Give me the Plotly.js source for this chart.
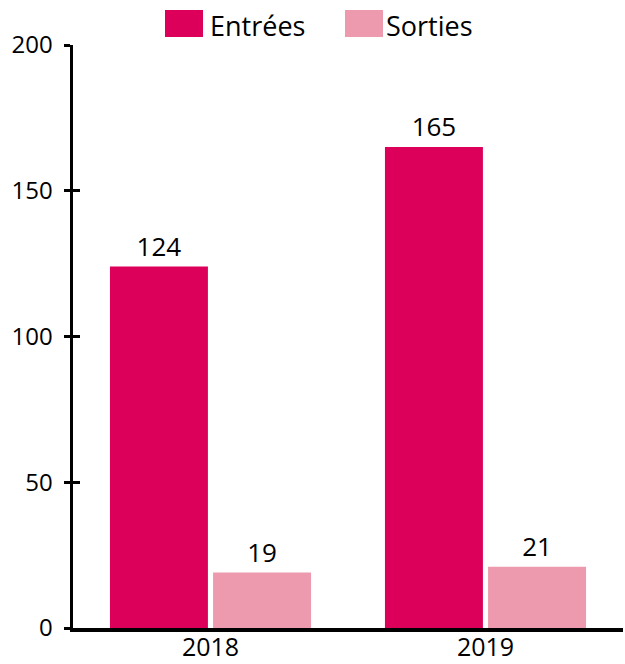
<!DOCTYPE html>
<html>
<head>
<meta charset="utf-8">
<script src="https://cdn.plot.ly/plotly-3.0.1.min.js"></script>
<style>html,body{margin:0;padding:0;background:#fff;}#chart{width:625px;height:664px;}</style>
</head>
<body>
<div id="chart"></div>
<script>
var categories = ['2018', '2019'];
var seriesNames = ['Entrées', 'Sorties'];
var entrees = [124, 165];
var sorties = [19, 21];
var yTicks = [0, 50, 100, 150, 200];
var colors = ['#DC005A', '#EE9AAE'];

var FONT = '"Open Sans", "DejaVu Sans", sans-serif';

var traces = [
  {type: 'bar', name: seriesNames[0], x: categories, y: entrees, marker: {color: colors[0]},
   text: entrees.map(String), textposition: 'outside', textfont: {size: 26, color: '#000', family: FONT},
   cliponaxis: false, showlegend: false},
  {type: 'bar', name: seriesNames[1], x: categories, y: sorties, marker: {color: colors[1]},
   text: sorties.map(String), textposition: 'outside', textfont: {size: 26, color: '#000', family: FONT},
   cliponaxis: false, showlegend: false},
  {type: 'scatter', x: [categories[0]], y: [null], yaxis: 'y2', showlegend: false, hoverinfo: 'skip'}
];

var layout = {
  width: 625, height: 664,
  margin: {l: 73, r: 2, t: 45, b: 36},
  paper_bgcolor: '#fff', plot_bgcolor: '#fff',
  font: {family: FONT, size: 24, color: '#000'},
  barmode: 'group', bargap: 0.25, bargroupgap: 0.05,
  showlegend: false,
  xaxis: {type: 'category', showline: true, linecolor: '#000', linewidth: 3.5, ticks: '', showgrid: false,
          ticklabelstandoff: -6, tickfont: {size: 25, family: FONT}},
  yaxis: {range: [0, 200], tickvals: yTicks, ticktext: yTicks.map(String), showline: true, linecolor: '#000', linewidth: 3.5,
          ticks: 'outside', ticklen: 6, tickwidth: 3, tickcolor: '#000', showgrid: false, zeroline: false,
          ticklabelstandoff: 6, tickfont: {size: 24, family: FONT}},
  yaxis2: {overlaying: 'y', range: [0, 200], tickvals: yTicks, showticklabels: false, ticks: 'inside', ticklen: 7,
           tickwidth: 3, tickcolor: '#000', showline: false, showgrid: false, zeroline: false, side: 'left'},
  shapes: [
    {type: 'rect', xref: 'paper', yref: 'paper', x0: (165-73)/550, x1: (203-73)/550, y0: (664-36-37)/583, y1: (664-36-10)/583,
     fillcolor: colors[0], line: {width: 0}},
    {type: 'rect', xref: 'paper', yref: 'paper', x0: (345-73)/550, x1: (383-73)/550, y0: (664-36-37)/583, y1: (664-36-10)/583,
     fillcolor: colors[1], line: {width: 0}}
  ],
  annotations: [
    {xref: 'paper', yref: 'paper', x: (208-73)/550, y: (664-36-25)/583, xanchor: 'left', yanchor: 'middle', showarrow: false,
     text: seriesNames[0], font: {size: 27, family: FONT, color: '#000'}},
    {xref: 'paper', yref: 'paper', x: (384-73)/550, y: (664-36-25)/583, xanchor: 'left', yanchor: 'middle', showarrow: false,
     text: seriesNames[1], font: {size: 27, family: FONT, color: '#000'}}
  ]
};

Plotly.newPlot('chart', traces, layout, {displayModeBar: false, staticPlot: true});
</script>
</body>
</html>
